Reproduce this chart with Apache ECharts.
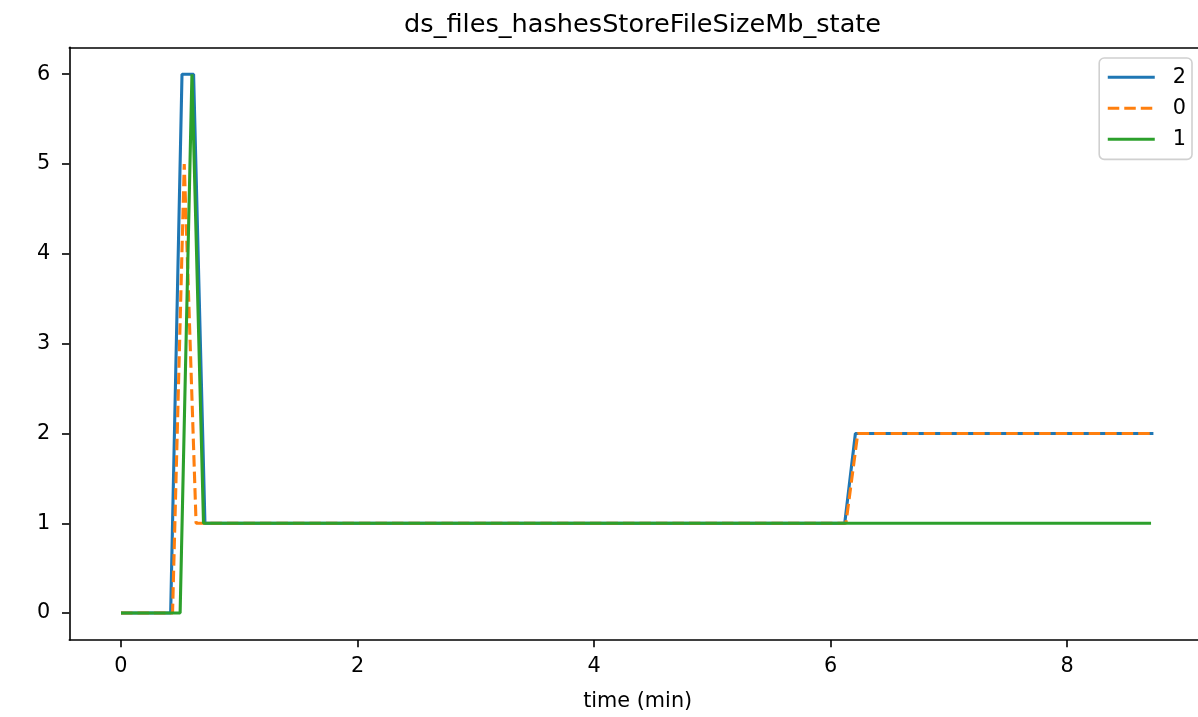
<!DOCTYPE html>
<html>
<head>
<meta charset="utf-8">
<script src="https://cdn.jsdelivr.net/npm/echarts@6/dist/echarts.min.js"></script>
<style>html,body{margin:0;padding:0;background:#fff}#c{width:1198px;height:717px}</style>
</head>
<body>
<div id="c"></div>
<script>
const title = 'ds_files_hashesStoreFileSizeMb_state';
const xLabel = 'time (min)';
const xTicks = [0, 2, 4, 6, 8];
const yTicks = [0, 1, 2, 3, 4, 5, 6];
const seriesNames = ['2', '0', '1'];
const time2 = [0, 0.42, 0.516, 0.614, 0.71, 6.12, 6.21, 8.73];
const vals2 = [0, 0, 6, 6, 1, 1, 2, 2];
const time0 = [0, 0.436, 0.535, 0.635, 6.13, 6.23, 8.73];
const vals0 = [0, 0, 5, 1, 1, 2, 2];
const time1 = [0, 0.5, 0.6, 0.698, 8.71];
const vals1 = [0, 0, 6, 1, 1];
const colors = ['#1f77b4', '#ff7f0e', '#2ca02c'];

const pairs = (t, v) => t.map((x, i) => [x, v[i]]);
const font = 'DejaVu Sans';
const chart = echarts.init(document.getElementById('c'), null, {renderer: 'canvas'});
const spine = {show: true, onZero: false, lineStyle: {color: '#000', width: 1.6}};
chart.setOption({
  animation: false,
  title: {
    text: title, left: 637.6, top: 7, textAlign: 'center',
    textStyle: {fontFamily: font, fontSize: 25.6, fontWeight: 'normal', color: '#000'}
  },
  grid: {
    left: 69.3, top: 47.3, width: 1128.7, height: 599.4
  },
  legend: {
    orient: 'vertical', right: 6, top: 58,
    data: seriesNames,
    itemWidth: 47, itemHeight: 14, itemGap: 10,
    padding: [8.7, 6, 9.7, 7],
    borderColor: '#d0d0d0', borderWidth: 1.6, borderRadius: 5,
    backgroundColor: '#fff',
    itemStyle: {opacity: 0},
    lineStyle: {width: 3.1},
    textStyle: {fontFamily: font, fontSize: 20.8, color: '#000', padding: [0, 0, 0, 13]}
  },
  xAxis: [{
    type: 'value', min: -0.437, max: 9.107,
    name: xLabel, nameLocation: 'middle', nameGap: 51,
    nameTextStyle: {fontFamily: font, fontSize: 20.8, color: '#000', padding: [0, 0, 0, 8]},
    axisLine: spine,
    axisTick: {show: true, length: 7.3, lineStyle: {color: '#000', width: 1.6}, customValues: xTicks},
    axisLabel: {fontFamily: font, fontSize: 20.8, color: '#000', margin: 16, customValues: xTicks},
    splitLine: {show: false}
  }, {
    type: 'value', position: 'top', min: -0.437, max: 9.107,
    axisLine: spine, axisTick: {show: false}, axisLabel: {show: false}, splitLine: {show: false}
  }],
  yAxis: {
    type: 'value', min: -0.3, max: 6.3,
    axisLine: spine,
    axisTick: {show: true, length: 7.3, lineStyle: {color: '#000', width: 1.6}, customValues: yTicks},
    axisLabel: {fontFamily: font, fontSize: 20.8, color: '#000', margin: 19, customValues: yTicks},
    splitLine: {show: false}
  },
  series: [
    {name: seriesNames[0], type: 'line', data: pairs(time2, vals2), symbol: 'none', color: colors[0],
     lineStyle: {width: 3.1, color: colors[0]}},
    {name: seriesNames[1], type: 'line', data: pairs(time0, vals0), symbol: 'none', color: colors[1],
     lineStyle: {width: 3.1, color: colors[1], type: [11.5, 5]}},
    {name: seriesNames[2], type: 'line', data: pairs(time1, vals1), symbol: 'none', color: colors[2],
     lineStyle: {width: 3.1, color: colors[2]}}
  ]
});
</script>
</body>
</html>
